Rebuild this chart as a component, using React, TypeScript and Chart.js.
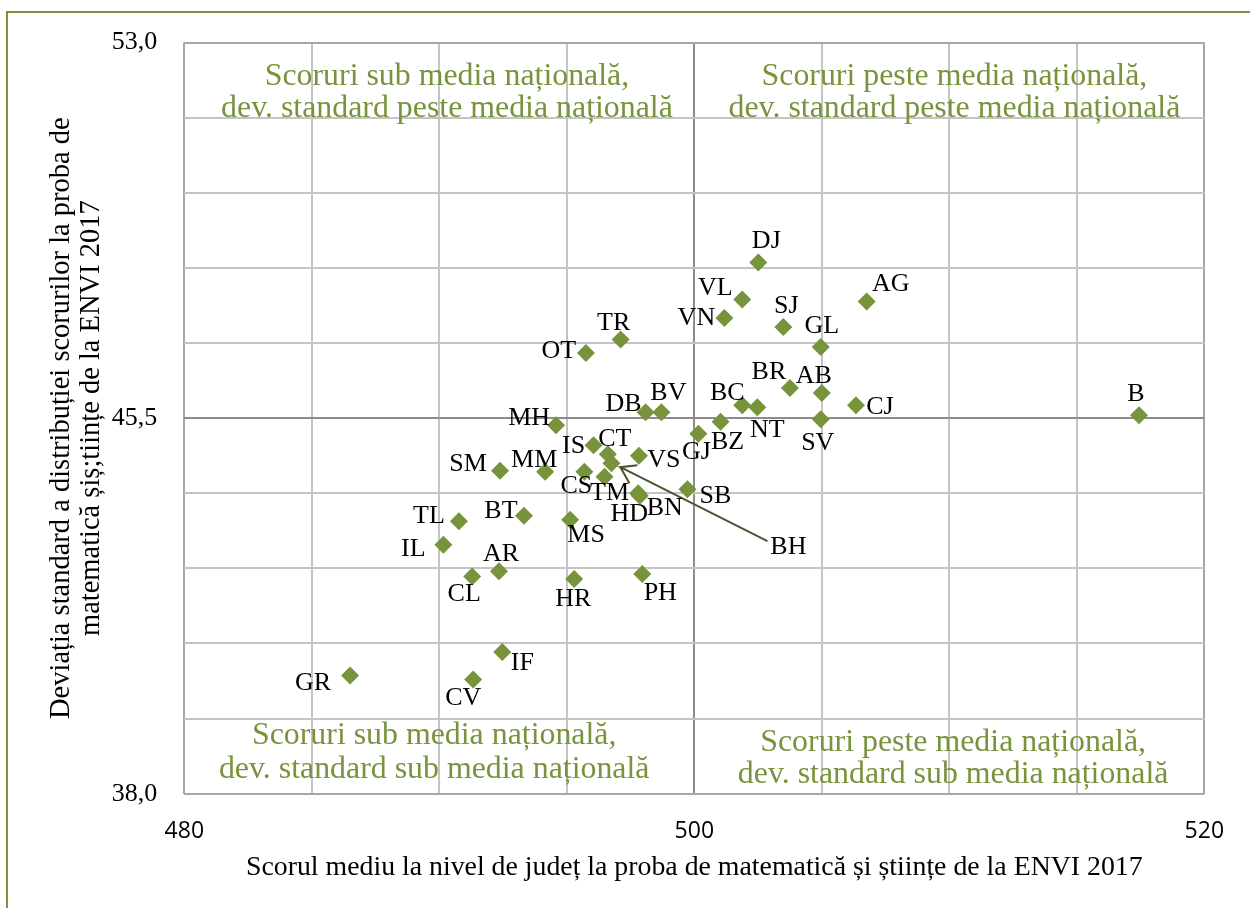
import React, { useEffect, useRef } from 'react';
import { Chart, registerables } from 'chart.js';

Chart.register(...registerables);

// ---------- data ----------
const COUNTIES = ['DJ', 'VL', 'VN', 'SJ', 'AG', 'GL', 'TR', 'OT', 'BR', 'AB', 'CJ', 'BC', 'NT', 'DB', 'BV', 'SV', 'BZ', 'GJ', 'MH', 'IS', 'CT', 'VS', 'SM', 'MM', 'CS', 'BH', 'TM', 'HD', 'BN', 'SB', 'TL', 'BT', 'MS', 'IL', 'AR', 'CL', 'HR', 'PH', 'GR', 'CV', 'IF', 'B'];
const MEAN_SCORE = [502.51, 501.88, 501.18, 503.49, 506.76, 504.96, 497.11, 495.75, 503.75, 505.0, 506.34, 501.88, 502.47, 498.09, 498.71, 504.96, 501.03, 500.16, 494.58, 496.05, 496.61, 497.83, 492.38, 494.15, 495.69, 496.75, 496.48, 497.8, 497.86, 499.73, 490.77, 493.32, 495.13, 490.16, 492.34, 491.29, 495.29, 497.96, 486.5, 491.33, 492.47, 517.44];
const STD_DEV = [48.61, 47.87, 47.5, 47.32, 47.83, 46.92, 47.07, 46.8, 46.1, 46.0, 45.76, 45.76, 45.72, 45.62, 45.62, 45.48, 45.43, 45.19, 45.36, 44.96, 44.78, 44.75, 44.45, 44.43, 44.43, 44.6, 44.33, 44.0, 43.95, 44.08, 43.44, 43.55, 43.47, 42.97, 42.44, 42.34, 42.29, 42.39, 40.36, 40.28, 40.83, 45.56];

const X_LABELED_TICKS = [480, 500, 520];
const Y_LABELED_TICKS = [38, 45.5, 53];
const NATIONAL_MEAN_SCORE = 500;
const NATIONAL_MEAN_SD = 45.5;

const X_TITLE = 'Scorul mediu la nivel de județ la proba de matematică și științe de la ENVI 2017';
const Y_TITLE_LINES = ['Deviația standard a distribuției scorurilor la proba de', 'matematică șiș;tiințe de la ENVI 2017'];

const QUADRANT_TEXTS = [
  ['Scoruri sub media națională,', 'dev. standard peste media națională'],
  ['Scoruri peste media națională,', 'dev. standard peste media națională'],
  ['Scoruri sub media națională,', 'dev. standard sub media națională'],
  ['Scoruri peste media națională,', 'dev. standard sub media națională'],
];
// anchor (data coords) of each quadrant text block: [x, y of first line, y of second line]
const QUADRANT_ANCHORS = [
  [490.3, 52.37, 51.73],
  [510.2, 52.37, 51.73],
  [489.8, 39.21, 38.52],
  [510.15, 39.07, 38.43],
];

// ---------- style ----------
const GREEN = '#77933C';
const SERIF = 'Liberation Serif';
const LABEL_SIZE = 26;
// label centre offset from its marker, in pixels (same order as COUNTIES)
const LABEL_OFFSETS: [number, number][] = [
  [8, -23], [-27, -13], [-28, -2], [3, -23], [24, -19], [1, -23], [-7, -18], [-27, -4], [-21, -18], [-8, -19],
  [24, 0], [-15, -14], [10, 21], [-22, -10], [7, -21], [-3, 22], [7, 19], [-2, 17], [-27, -9], [-20, -1],
  [7, -17], [25, 3], [-32, -8], [-11, -13], [-8, 13], [177, 82], [5, 15], [-9, 19], [25, 11], [28, 5],
  [-30, -7], [-23, -6], [16, 14], [-30, 3], [2, -19], [-8, 16], [-1, 19], [18, 18], [-37, 6], [-10, 17],
  [20, 9], [-3, -23],
];
const LEADER_FOR = 'BH';

const CHART_LEFT = 184.3;
const CHART_TOP = 40.7;
const CHART_RIGHT_PAD = 45.7;
const X_AXIS_HEIGHT = 114.3;

function fitSize(ctx: CanvasRenderingContext2D, text: string, family: string, target: number) {
  ctx.font = `100px "${family}"`;
  const w = ctx.measureText(text).width;
  return (100 * target) / w;
}

function drawCentered(ctx: CanvasRenderingContext2D, text: string, cx: number, cy: number, size: number, family: string, color: string) {
  ctx.font = `${size}px "${family}"`;
  ctx.fillStyle = color;
  ctx.textAlign = 'center';
  ctx.textBaseline = 'alphabetic';
  ctx.fillText(text, cx, cy + size * 0.33);
}

const decorPlugin = {
  id: 'decor',
  beforeDatasetsDraw(chart: any) {
    const ctx: CanvasRenderingContext2D = chart.ctx;
    const xs = chart.scales.x;
    const ys = chart.scales.y;
    ctx.save();
    // outer frame
    ctx.strokeStyle = GREEN;
    ctx.lineWidth = 2;
    ctx.beginPath();
    ctx.moveTo(7, chart.height);
    ctx.lineTo(7, 12);
    ctx.lineTo(chart.width, 12);
    ctx.stroke();

    // quadrant texts
    const qSize = fitSize(ctx, QUADRANT_TEXTS[1][1], SERIF, 452);
    QUADRANT_TEXTS.forEach((lines, i) => {
      const a = QUADRANT_ANCHORS[i];
      const cx = xs.getPixelForValue(a[0]);
      drawCentered(ctx, lines[0], cx, ys.getPixelForValue(a[1]), qSize, SERIF, GREEN);
      drawCentered(ctx, lines[1], cx, ys.getPixelForValue(a[2]), qSize, SERIF, GREEN);
    });

    // x title
    const xtSize = fitSize(ctx, X_TITLE, SERIF, 897);
    drawCentered(ctx, X_TITLE, (chart.chartArea.left + chart.chartArea.right) / 2, 866, xtSize, SERIF, '#000');

    // y title (rotated)
    const ytSize = fitSize(ctx, Y_TITLE_LINES[0], SERIF, 602);
    const cy = (chart.chartArea.top + chart.chartArea.bottom) / 2;
    [60, 90].forEach((cx, i) => {
      ctx.save();
      ctx.translate(cx, cy);
      ctx.rotate(-Math.PI / 2);
      drawCentered(ctx, Y_TITLE_LINES[i], 0, 0, ytSize, SERIF, '#000');
      ctx.restore();
    });
    ctx.restore();
  },
  afterDatasetsDraw(chart: any) {
    const ctx: CanvasRenderingContext2D = chart.ctx;
    const meta = chart.getDatasetMeta(0);
    ctx.save();
    meta.data.forEach((pt: any, i: number) => {
      const [dx, dy] = LABEL_OFFSETS[i];
      const name = COUNTIES[i];
      if (name === LEADER_FOR) {
        ctx.strokeStyle = '#4A5530';
        ctx.lineWidth = 2;
        ctx.beginPath();
        ctx.moveTo(pt.x + 156, pt.y + 78);
        ctx.lineTo(pt.x + 9, pt.y + 4);
        ctx.lineTo(pt.x + 26, pt.y + 2);
        ctx.moveTo(pt.x + 9, pt.y + 4);
        ctx.lineTo(pt.x + 18, pt.y + 20);
        ctx.stroke();
      }
      drawCentered(ctx, name, pt.x + dx, pt.y + dy, LABEL_SIZE, SERIF, '#000');
    });
    ctx.restore();
  },
};

function gridColor(value: number, min: number, max: number, center: number) {
  if (Math.abs(value - center) < 1e-6) return '#8C8C8C';
  if (Math.abs(value - min) < 1e-6 || Math.abs(value - max) < 1e-6) return '#A6A6A6';
  return '#C4C4C4';
}

export default function App() {
  const ref = useRef<HTMLCanvasElement | null>(null);
  useEffect(() => {
    if (!ref.current) return;
    const points = MEAN_SCORE.map((x, i) => ({ x, y: STD_DEV[i] }));
    const chart = new Chart(ref.current, {
      type: 'scatter',
      data: {
        datasets: [
          {
            label: 'Județe',
            data: points,
            pointStyle: 'rectRot',
            pointRadius: 9,
            pointHoverRadius: 9,
            backgroundColor: GREEN,
            borderColor: GREEN,
            borderWidth: 0,
          },
        ],
      },
      options: {
        responsive: false,
        animation: false,
        events: [],
        layout: { padding: { top: CHART_TOP, right: CHART_RIGHT_PAD, left: 0, bottom: 0 } },
        plugins: { legend: { display: false }, tooltip: { enabled: false }, title: { display: false } },
        scales: {
          x: {
            type: 'linear',
            min: 480,
            max: 520,
            afterFit(s: any) { s.height = X_AXIS_HEIGHT; },
            border: { display: false },
            grid: {
              drawTicks: false,
              lineWidth: 2,
              color: (c: any) => gridColor(c.tick?.value, 480, 520, NATIONAL_MEAN_SCORE),
            },
            ticks: {
              stepSize: 5,
              autoSkip: false,
              maxRotation: 0,
              padding: 24,
              color: '#000',
              font: { family: 'Open Sans', size: 23 },
              callback: (v: any) => (X_LABELED_TICKS.includes(Number(v)) ? String(v) : ''),
            },
          },
          y: {
            type: 'linear',
            min: 38,
            max: 53,
            afterFit(s: any) { s.width = CHART_LEFT; },
            border: { display: false },
            grid: {
              drawTicks: false,
              lineWidth: 2,
              color: (c: any) => gridColor(c.tick?.value, 38, 53, NATIONAL_MEAN_SD),
            },
            ticks: {
              stepSize: 1.5,
              autoSkip: false,
              padding: 27,
              color: '#000',
              font: { family: SERIF, size: 26 },
              callback: (v: any) =>
                Y_LABELED_TICKS.some((t) => Math.abs(t - Number(v)) < 1e-6) ? Number(v).toFixed(1).replace('.', ',') : '',
            },
          },
        },
      },
      plugins: [decorPlugin],
    });
    return () => chart.destroy();
  }, []);
  return (
    <div style={{ position: 'absolute', left: 0, top: 0, width: 1250, height: 908, background: '#fff' }}>
      <canvas ref={ref} width={1250} height={908} />
    </div>
  );
}
